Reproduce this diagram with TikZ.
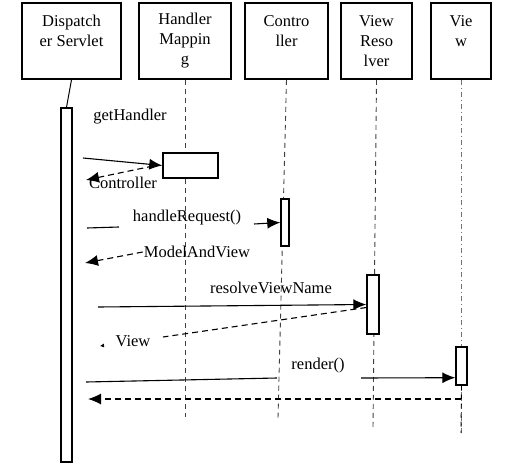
\documentclass[tikz,border=0pt]{standalone}
\usepackage{fontspec}
\setmainfont{Liberation Serif}
\usetikzlibrary{arrows.meta,positioning}
\newcommand{\lblfont}{\fontsize{16.5}{20}\selectfont}
\tikzset{
  obj/.style={rectangle, draw, line width=1.6pt, minimum height=76pt, align=center, font=\lblfont, inner sep=2pt},
  actbar/.style={rectangle, draw, line width=1.4pt, fill=white, inner sep=0pt},
  life/.style={black!75, line width=0.9pt, dash pattern=on 5pt off 4pt},
  msg/.style={-{Latex[length=13pt,width=11pt]}, line width=1.1pt},
  ret/.style={msg, dash pattern=on 6pt off 4pt},
  seg/.style={line width=1.1pt},
  lbl/.style={font=\lblfont, inner sep=1pt}
}

\begin{document}
\begin{tikzpicture}[x=1pt,y=-1pt]
\useasboundingbox (0,0) rectangle (523,469);
% objects
\node[obj, minimum width=99pt] (ds) at (71.5,41) {Dispatch\\er Servlet\\~};
\node[obj, minimum width=92pt] (hm) at (185,41) {Handler\\Mappin\\g};
\node[obj, minimum width=83pt] (ctrl) at (286.5,41) {Contro\\ller\\~};
\node[obj, minimum width=71pt] (vr) at (376.5,41) {View\\Reso\\lver};
\node[obj, minimum width=60pt] (view) at (461,41) {Vie\\w\\~};

% lifeline ends
\coordinate (hmend) at (185,417);
\coordinate (ctrlend) at (278,418);
\coordinate (vrend) at (373,428);
\coordinate (viewend) at (461,433);
\draw[life] (hm.south) -- (hmend);
\draw[life] (ctrl.south) -- (ctrlend);
\draw[life] (vr.south) -- (vrend);
\draw[black!55, line width=0.9pt, dash pattern=on 5pt off 3pt on 1pt off 3pt] (view.south) -- (viewend);

% activations
\node[actbar, minimum width=11pt, minimum height=354pt] (dsact) at (66.5,285) {};
\node[actbar, minimum width=55pt, minimum height=25pt] (hmact) at (190.5,165.5) {};
\node[actbar, minimum width=8pt, minimum height=47pt] (ctrlact) at (285,222.5) {};
\node[actbar, minimum width=12pt, minimum height=59pt] (vract) at (373,304.5) {};
\node[actbar, minimum width=11pt, minimum height=38pt] (viewact) at (461.5,366) {};
\draw[line width=1pt] (ds.south) -- (dsact.north);
\draw[life, black] (viewact.south) -- (viewend);

% labels
\node[lbl] (geth) at (130,117) {getHandler};
\node[lbl] (ctrlret) at (123,183) {Controller};
\node[lbl] (hreq) at (187,218) {handleRequest()};
\node[lbl] (mav) at (197,252) {ModelAndView};
\node[lbl] (rvn) at (271,288) {resolveViewName};
\node[lbl] (vw) at (133,341) {View};
\node[lbl] (rend) at (318,366) {render()};

% message ends
\coordinate (m1) at (83,158);
\coordinate (r1s) at (153,166);
\coordinate (r1e) at (86,180);
\coordinate (m2a) at (87,228);
\coordinate (m2b) at (119,227);
\coordinate (m2c) at (254,224);
\coordinate (r2e) at (85,263);
\coordinate (m3) at (98,307);
\coordinate (r3e) at (163,337);
\coordinate (r3t) at (104,345.5);
\coordinate (r3h) at (100,346);
\coordinate (m4a) at (86,382);
\coordinate (m4b) at (277,378);
\coordinate (m4c) at (361,378);
\coordinate (r4s) at (461,399);
\coordinate (r4e) at (88,399);

% messages
\draw[msg] (m1) -- (hmact.west);
\draw[ret] (r1s) -- (r1e);
\draw[seg] (m2a) -- (m2b);
\draw[msg] (m2c) -- (ctrlact.west);
\draw[ret] (mav.west) -- (r2e);
\draw[msg] (m3) -- (vract.west);
\draw[seg, dash pattern=on 6pt off 4pt] ([yshift=-3pt]vract.west) -- (r3e);
\draw[-{Latex[length=4pt,width=4pt]}, line width=0.6pt] (r3t) -- (r3h);
\draw[seg] (m4a) -- (m4b);
\draw[msg] (m4c) -- ([yshift=8pt]viewact.south west);
\draw[ret] (r4s) -- (r4e);
\end{tikzpicture}
\end{document}
